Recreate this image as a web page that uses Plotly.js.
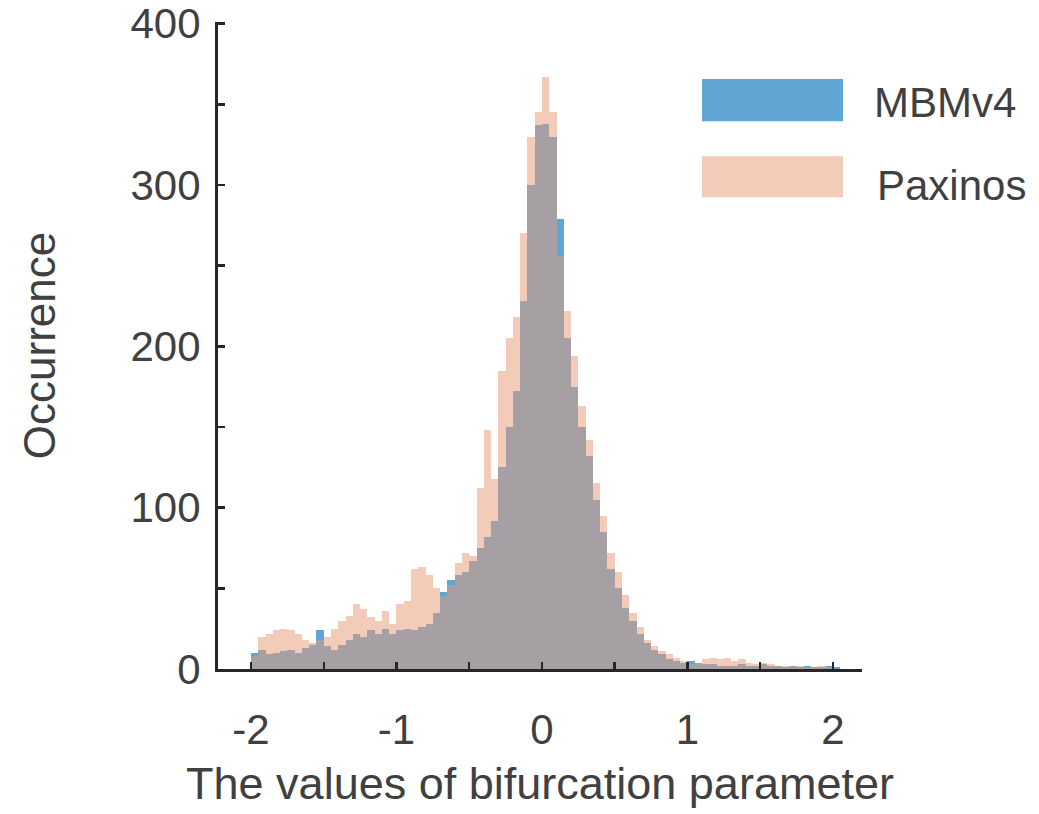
<!DOCTYPE html>
<html>
<head>
<meta charset="utf-8">
<script src="https://cdn.plot.ly/plotly-3.0.1.min.js"></script>
<style>
  html, body { margin: 0; padding: 0; background: #ffffff; }
  #chart { width: 1039px; height: 814px; }
</style>
</head>
<body>
<div id="chart"></div>
<script>
// ---- data ----
const binStart = -2.0;      // left edge of first bin
const binWidth = 0.05;      // bin width

const mbmv4Counts = [
  10, 12, 9, 10, 11, 12, 10, 13, 15, 24,
  14, 12, 15, 18, 22, 20, 24, 22, 25, 22,
  24, 25, 24, 26, 28, 35, 48, 55, 58, 60,
  67, 75, 82, 92, 125, 150, 172, 228, 300, 337,
  338, 330, 279, 205, 175, 150, 132, 105, 85, 62,
  50, 38, 30, 22, 16, 12, 9, 6, 5, 4,
  5, 4, 3, 3, 2, 2, 2, 3, 2, 2,
  3, 2, 2, 1, 2, 1, 2, 1, 1, 2,
  1
];

const paxinosCounts = [
  8, 20, 22, 24, 25, 24, 22, 18, 16, 18,
  20, 25, 30, 33, 40, 37, 32, 30, 36, 28,
  40, 42, 62, 63, 58, 50, 45, 52, 66, 72,
  70, 112, 148, 118, 185, 205, 218, 270, 330, 345,
  367, 345, 256, 222, 194, 163, 142, 115, 95, 72,
  60, 46, 35, 26, 18, 14, 11, 9, 7, 5,
  3, 4, 6, 7, 6, 7, 5, 6, 4, 3,
  4, 3, 2, 2, 2, 2, 1, 1, 2, 1,
  0
];

const seriesNames = ['MBMv4', 'Paxinos'];
const xTickVals = [-2, -1.5, -1, -0.5, 0, 0.5, 1, 1.5, 2];
const xTickText = ['-2', '', '-1', '', '0', '', '1', '', '2'];
const yTickVals = [0, 50, 100, 150, 200, 250, 300, 350, 400];
const yTickText = ['0', '', '100', '', '200', '', '300', '', '400'];
const xTitle = 'The values of bifurcation parameter';
const yTitle = 'Occurrence';

// ---- build ----
const centers = (arr) => arr.map((_, i) => binStart + binWidth * (i + 0.5));

const blue = 'rgb(96,166,212)';
const peach = 'rgba(230,155,120,0.52)';
const axisColor = 'rgb(38,38,38)';
const textColor = 'rgb(64,64,64)';
const fontFamily = '"Liberation Sans", Arial, Helvetica, sans-serif';

const traces = [
  {
    type: 'bar', name: seriesNames[0],
    x: centers(mbmv4Counts), y: mbmv4Counts, width: binWidth,
    marker: { color: blue, line: { width: 0 } },
    hoverinfo: 'x+y+name'
  },
  {
    type: 'bar', name: seriesNames[1],
    x: centers(paxinosCounts), y: paxinosCounts, width: binWidth,
    marker: { color: peach, line: { width: 0 } },
    hoverinfo: 'x+y+name'
  }
];

const layout = {
  width: 1039, height: 814,
  margin: { l: 218, r: 177, t: 22, b: 145, pad: 0 },
  paper_bgcolor: '#ffffff', plot_bgcolor: '#ffffff',
  barmode: 'overlay', bargap: 0,
  showlegend: false,
  font: { family: fontFamily, color: textColor, size: 42 },
  xaxis: {
    range: [-2.227, 2.2],
    tickmode: 'array', tickvals: xTickVals, ticktext: xTickText,
    ticks: 'inside', ticklen: 7, tickwidth: 2.5, tickcolor: axisColor,
    showline: true, linecolor: axisColor, linewidth: 3,
    showgrid: false, zeroline: false,
    tickfont: { family: fontFamily, size: 42, color: textColor },
    ticklabelstandoff: 22,
    title: { text: xTitle, font: { family: fontFamily, size: 45, color: textColor }, standoff: 16 }
  },
  yaxis: {
    range: [0, 401],
    tickmode: 'array', tickvals: yTickVals, ticktext: yTickText,
    ticks: 'inside', ticklen: 7, tickwidth: 2.5, tickcolor: axisColor,
    showline: true, linecolor: axisColor, linewidth: 3,
    showgrid: false, zeroline: false,
    tickfont: { family: fontFamily, size: 42, color: textColor },
    ticklabelstandoff: 6,
    title: { text: yTitle, font: { family: fontFamily, size: 44, color: textColor }, standoff: 62 }
  },
  shapes: [
    { type: 'rect', xref: 'paper', yref: 'paper', x0: 0.7516, x1: 0.9705, y0: 0.8467, y1: 0.9118,
      fillcolor: blue, line: { width: 0 } },
    { type: 'rect', xref: 'paper', yref: 'paper', x0: 0.7516, x1: 0.9705, y0: 0.7291, y1: 0.7926,
      fillcolor: peach, line: { width: 0 } }
  ],
  annotations: [
    { xref: 'paper', yref: 'paper', x: 1.0155, y: 0.876, xanchor: 'left', yanchor: 'middle',
      text: seriesNames[0], showarrow: false, font: { family: fontFamily, size: 42, color: textColor } },
    { xref: 'paper', yref: 'paper', x: 1.0202, y: 0.748, xanchor: 'left', yanchor: 'middle',
      text: seriesNames[1], showarrow: false, font: { family: fontFamily, size: 42, color: textColor } }
  ]
};

Plotly.newPlot('chart', traces, layout, { displayModeBar: false, staticPlot: true });
</script>
</body>
</html>
